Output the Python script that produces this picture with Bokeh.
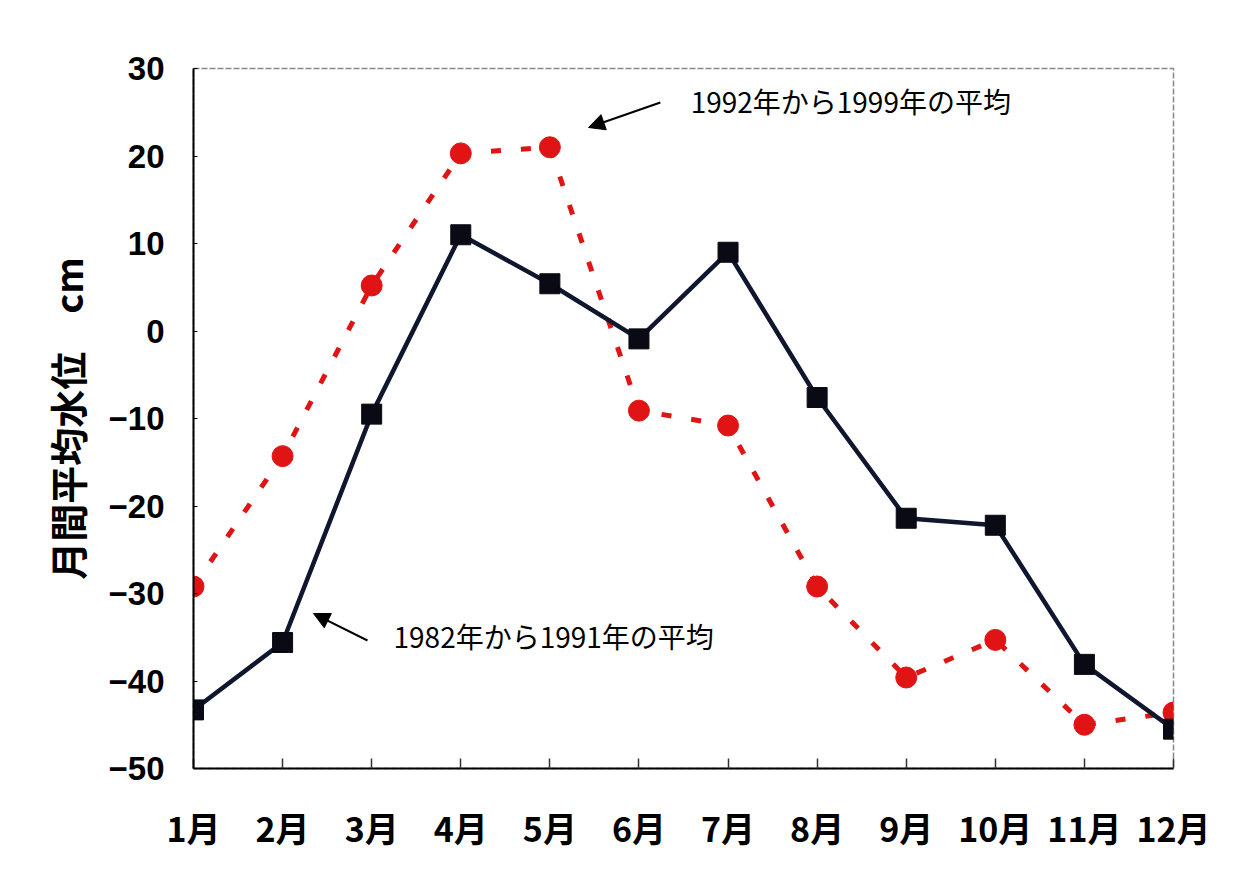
from bokeh.plotting import figure
from bokeh.models import ColumnDataSource, Range1d, FixedTicker, Arrow, NormalHead, Label
from bokeh.embed import file_html
from bokeh.resources import INLINE

months = list(range(1, 13))
month_labels = ["1月", "2月", "3月", "4月", "5月", "6月", "7月", "8月", "9月", "10月", "11月", "12月"]
avg_1982_1991 = [-43.3, -35.6, -9.5, 11.0, 5.4, -0.9, 9.0, -7.6, -21.4, -22.2, -38.1, -45.5]
avg_1992_1999 = [-29.2, -14.3, 5.2, 20.3, 21.0, -9.1, -10.8, -29.2, -39.6, -35.3, -45.0, -43.6]
y_ticks = [30, 20, 10, 0, -10, -20, -30, -40, -50]
label_1982 = "1982年から1991年の平均"
label_1992 = "1992年から1999年の平均"
y_label = "月間平均水位　cm"

FONT = "Noto Sans CJK JP"

p = figure(width=1250, height=866, output_backend="svg", toolbar_location=None,
           x_range=Range1d(1, 12), y_range=Range1d(-50, 30),
           min_border_left=193, min_border_right=77, min_border_top=68, min_border_bottom=98)
p.background_fill_color = "white"
p.border_fill_color = "white"
p.grid.visible = False
p.outline_line_color = "#888888"
p.outline_line_width = 1.5
p.outline_line_dash = "6 2"

src = ColumnDataSource(dict(x=months, a=avg_1982_1991, b=avg_1992_1999))

p.line("x", "b", source=src, line_color="#e01414", line_width=5, line_dash="10 20")
p.scatter("x", "b", source=src, marker="circle", size=21, fill_color="#e01414", line_color="#e01414")
p.line("x", "a", source=src, line_color="#10162e", line_width=4.5)
p.scatter("x", "a", source=src, marker="square", size=20, fill_color="#0a0a14", line_color="#0a0a14")

# x axis
xa = p.xaxis[0]
xa.ticker = FixedTicker(ticks=months)
xa.major_label_overrides = {m: l for m, l in zip(months, month_labels)}
xa.major_label_text_font = FONT
xa.major_label_text_font_style = "bold"
xa.major_label_text_font_size = "34px"
xa.major_label_text_color = "black"
xa.major_label_standoff = 34
xa.major_tick_in = 10
xa.major_tick_out = 0
xa.minor_tick_line_color = None
xa.axis_line_width = 2
xa.axis_line_color = "black"
xa.major_tick_line_color = "#333333"
xa.major_tick_line_width = 1.5

ya = p.yaxis[0]
ya.ticker = FixedTicker(ticks=y_ticks)
ya.major_label_overrides = {t: (str(t) if t >= 0 else "\u2212" + str(-t)) for t in y_ticks}
ya.major_label_text_font = "Liberation Sans"
ya.major_label_text_font_style = "bold"
ya.major_label_text_font_size = "33px"
ya.major_label_text_color = "black"
ya.major_label_standoff = 29
ya.major_tick_in = 4
ya.major_tick_out = 0
ya.minor_tick_line_color = None
ya.axis_line_width = 2
ya.axis_line_color = "black"
ya.axis_label = y_label
ya.axis_label_text_font = FONT
ya.axis_label_text_font_style = "bold"
ya.axis_label_text_font_size = "38px"
ya.axis_label_text_color = "black"
ya.axis_label_standoff = 12

# annotations
p.add_layout(Label(x=6.58, y=26.34, text=label_1992, text_font=FONT, text_font_size="28px",
                   text_baseline="middle", text_align="left", text_color="black"))
p.add_layout(Label(x=3.245, y=-34.8, text=label_1982, text_font=FONT, text_font_size="28px",
                   text_baseline="middle", text_align="left", text_color="black"))
p.add_layout(Arrow(x_start=6.24, y_start=26.11, x_end=5.434, y_end=23.26, line_width=2,
                   line_color="black",
                   end=NormalHead(size=16, fill_color="black", line_color="black")))
p.add_layout(Arrow(x_start=2.953, y_start=-35.37, x_end=2.347, y_end=-32.29, line_width=2,
                   line_color="black",
                   end=NormalHead(size=16, fill_color="black", line_color="black")))

open("out.html", "w").write(file_html(p, INLINE))
